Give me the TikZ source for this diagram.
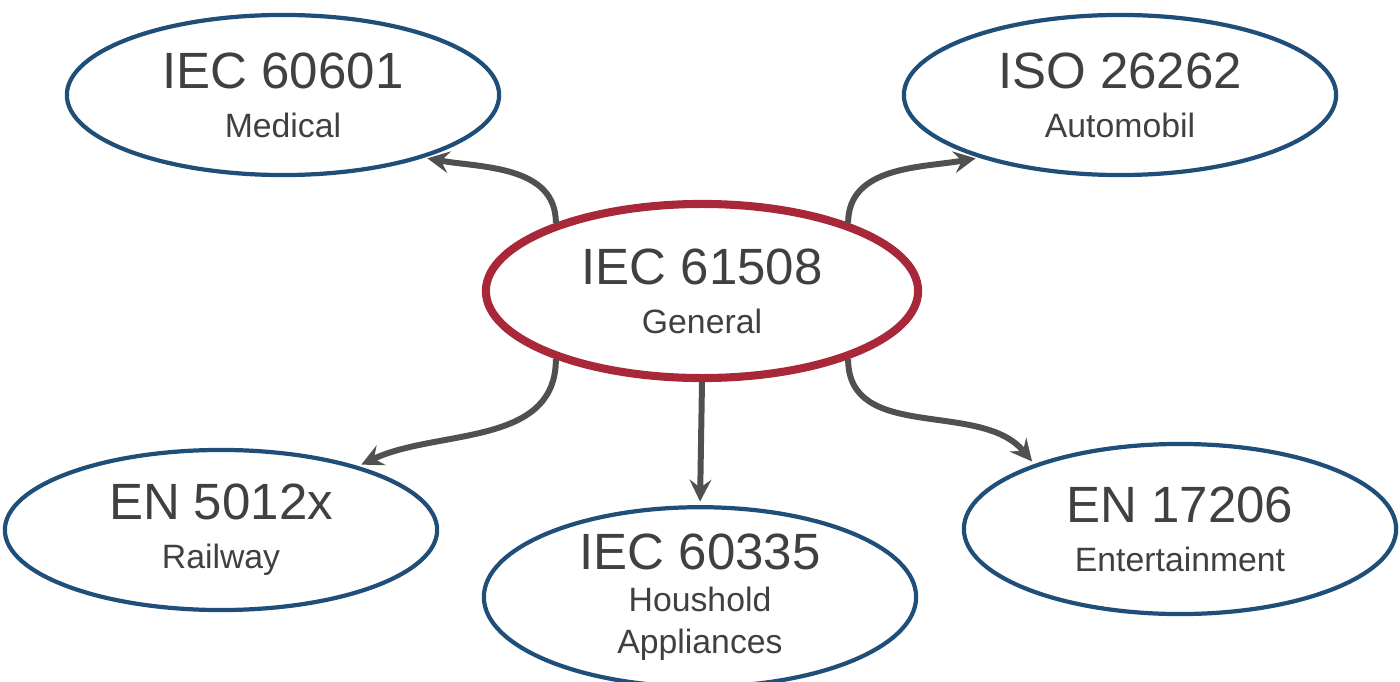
\documentclass[tikz,border=0pt]{standalone}
\usepackage{fontspec}
\setmainfont{Liberation Sans}
\usetikzlibrary{positioning,shapes,arrows}
\definecolor{stdblue}{HTML}{1F4E79}
\definecolor{stdred}{HTML}{A8283A}
\definecolor{txtgray}{HTML}{404040}
\definecolor{arrgray}{HTML}{505050}
\tikzstyle{norm} = [ellipse, draw=stdblue, line width=1.2pt, minimum width=4.32cm, minimum height=1.6cm, inner sep=0pt, align=center, text=txtgray]
\tikzstyle{base} = [norm, draw=stdred, line width=2.3pt, minimum height=1.74cm]
\tikzstyle{arrow} = [line width=1.7pt, draw=arrgray, ->, >=stealth, shorten >=1pt]
\newcommand{\stdtitle}[1]{\fontsize{14.5}{16}\selectfont #1}
\newcommand{\stdsub}[1]{\fontsize{9.6}{11.5}\selectfont #1}

\begin{document}
\begin{tikzpicture}[x=0.01cm, y=-0.01cm]
                    \useasboundingbox (0,0) rectangle (1400,682);
                    \node [base] (gen) at (702,291) {\stdtitle{IEC 61508}\\[2pt]\stdsub{General}};
                    \node [norm] (med) at (283,95) {\stdtitle{IEC 60601}\\[2pt]\stdsub{Medical}};
                    \node [norm] (auto) at (1120,95) {\stdtitle{ISO 26262}\\[2pt]\stdsub{Automobil}};
                    \node [norm] (rail) at (221,530) {\stdtitle{EN 5012x}\\[2pt]\stdsub{Railway}};
                    \node [norm] (house) at (700,597) {\stdtitle{IEC 60335}\\\stdsub{Houshold}\\\stdsub{Appliances}};
                    \node [norm, minimum height=1.7cm] (ent) at (1180,529) {\stdtitle{EN 17206}\\[2pt]\stdsub{Entertainment}};
                    \draw [arrow] (gen.155) to[out=90, in=-10] (med.-24);
                    \draw [arrow] (gen.25) to[out=90, in=190] (auto.204);
                    \draw [arrow] (gen.205) to[out=-90, in=25] (rail.25);
                    \draw [arrow] (gen.south) -- (house.north);
                    \draw [arrow] (gen.-25) to[out=-90, in=130] (ent.156);
                \end{tikzpicture}
\end{document}
